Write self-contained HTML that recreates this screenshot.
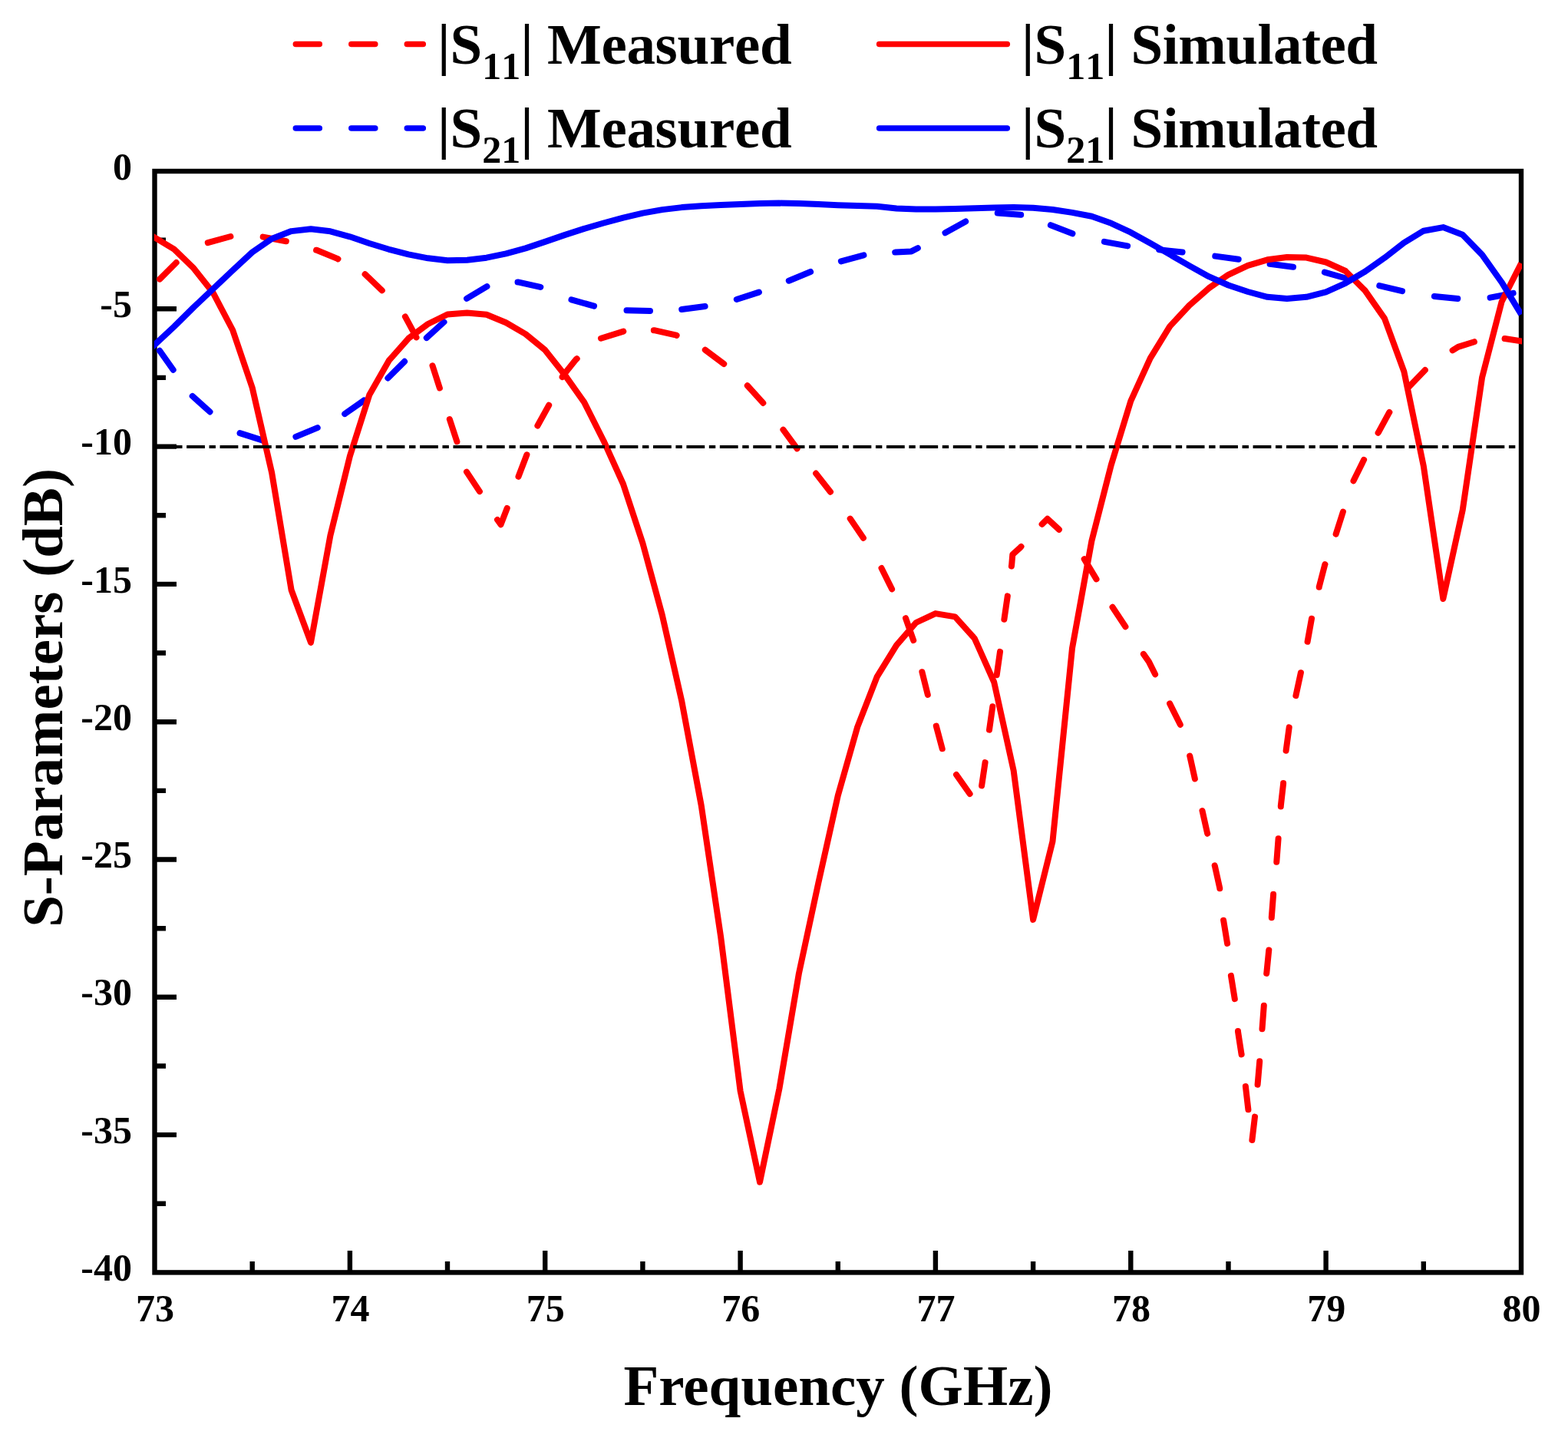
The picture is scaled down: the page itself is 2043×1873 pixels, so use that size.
<!DOCTYPE html><html><head><meta charset="utf-8"><title>S-Parameters</title>
<style>html,body{margin:0;padding:0;background:#fff;}svg{display:block;}text{font-family:"Liberation Serif","Times New Roman",serif;font-weight:bold;fill:#000;}</style></head><body>
<svg width="2043" height="1873" viewBox="0 0 2043 1873">
<rect x="0" y="0" width="2043" height="1873" fill="#fff"/>
<defs><clipPath id="pc"><rect x="200.8" y="223.0" width="1782.2" height="1434.4"/></clipPath></defs>
<rect x="201.5" y="223.0" width="1780.5" height="1434.4" fill="none" stroke="#000" stroke-width="6.4"/>
<path d="M201.5,312.6H216M201.5,402.3H230M201.5,491.9H216M201.5,581.6H230M201.5,671.2H216M201.5,760.9H230M201.5,850.5H216M201.5,940.2H230M201.5,1029.9H216M201.5,1119.5H230M201.5,1209.2H216M201.5,1298.8H230M201.5,1388.5H216M201.5,1478.1H230M201.5,1567.8H216M328.7,1657.4V1642.9M455.9,1657.4V1628.9M583.0,1657.4V1642.9M710.2,1657.4V1628.9M837.4,1657.4V1642.9M964.6,1657.4V1628.9M1091.8,1657.4V1642.9M1218.9,1657.4V1628.9M1346.1,1657.4V1642.9M1473.3,1657.4V1628.9M1600.5,1657.4V1642.9M1727.6,1657.4V1628.9M1854.8,1657.4V1642.9" stroke="#000" stroke-width="6.4" fill="none"/>
<g clip-path="url(#pc)" fill="none" stroke-width="8" stroke-linejoin="round">
<path d="M208.1,363.6 L229.7,342.0 M270.8,316.1 L300.4,308.0 M342.7,308.6 L372.8,314.2 M412.1,325.7 L412.5,325.8 L440.1,337.1 L440.4,337.3 M475.6,357.2 L497.8,378.3 M527.9,412.4 L542.5,439.4 M563.5,476.3 L572.9,505.4 M585.8,546.1 L595.4,575.2 M608.0,614.6 L624.9,640.1 M648.0,677.0 L652.5,683.3 L660.7,662.0 M675.5,620.8 L686.4,592.3 M700.4,554.5 L715.2,527.8 M732.6,491.0 L733.2,489.7 L750.6,468.1 L751.7,467.2 M783.0,440.7 L812.3,431.6 M851.8,430.2 L852.3,430.2 L881.2,436.7 L881.6,436.9 M918.8,455.7 L943.2,474.0 M973.8,502.2 L994.3,524.9 M1020.4,559.7 L1038.6,584.3 M1063.1,616.6 L1082.0,640.7 M1107.7,675.6 L1124.9,700.8 M1148.5,740.0 L1162.1,767.3 M1180.0,805.2 L1190.2,834.1 M1201.4,875.2 L1208.8,904.9 M1219.8,945.6 L1227.7,975.2 M1246.0,1009.0 L1263.6,1034.0 M1279.1,1023.4 L1283.6,993.1 M1289.0,950.6 L1293.3,920.3 M1298.7,879.2 L1303.0,848.9 M1308.4,806.7 L1312.8,776.4 M1317.9,737.5 L1318.2,735.3 L1319.3,722.3 L1329.0,713.6 L1330.5,711.9 M1357.6,682.8 L1364.7,675.8 L1379.9,689.8 M1412.7,728.1 L1428.5,754.4 M1449.5,790.8 L1466.4,816.2 M1489.9,851.9 L1496.9,861.9 L1505.1,878.3 M1524.1,916.4 L1537.8,943.8 M1550.2,984.6 L1550.3,984.9 L1556.8,1014.1 L1556.9,1014.4 M1566.5,1056.0 L1566.6,1056.3 L1573.1,1085.5 L1573.2,1085.8 M1582.7,1127.4 L1582.8,1127.7 L1589.3,1157.0 L1589.3,1157.3 M1594.1,1198.7 L1594.2,1199.2 L1599.0,1228.4 L1599.1,1228.9 M1603.9,1270.9 L1608.8,1301.1 M1613.0,1343.1 L1613.0,1343.6 L1617.5,1372.9 L1617.6,1373.4 M1622.9,1415.0 L1626.4,1445.3 M1631.4,1485.0 L1635.0,1454.6 M1638.6,1412.7 L1641.2,1382.6 L1641.2,1382.2 M1644.5,1340.2 L1646.8,1309.7 M1650.2,1267.9 L1650.3,1267.3 L1653.2,1238.1 L1653.3,1237.5 M1656.8,1195.3 L1656.8,1194.9 L1659.1,1165.1 L1659.1,1164.7 M1663.3,1122.7 L1665.6,1092.2 M1668.8,1050.4 L1668.8,1049.8 L1672.1,1020.6 L1672.1,1020.0 M1675.6,977.7 L1679.7,947.4 M1688.4,906.1 L1694.9,876.2 M1703.6,835.8 L1709.0,805.7 M1718.7,764.7 L1718.7,764.5 L1726.3,735.3 L1726.4,735.1 M1740.6,695.7 L1749.9,666.6 M1763.5,626.3 L1777.1,598.8 M1795.6,563.8 L1795.9,563.3 L1810.0,537.4 L1810.3,537.0 M1835.6,504.0 L1856.8,482.0 M1892.6,456.4 L1899.8,451.9 L1920.9,445.2 M1960.6,441.0 L1990.8,445.8" stroke="#f00" stroke-linecap="round"/>
<path d="M208.0,456.7 L225.7,481.7 M250.7,515.9 L273.5,536.4 M312.5,564.1 L341.6,573.4 M385.4,568.9 L413.7,557.1 M449.2,539.1 L449.3,539.0 L474.2,521.6 L474.3,521.5 M505.4,492.5 L527.1,470.8 M555.8,440.0 L578.5,419.4 M608.1,388.9 L634.4,373.1 M674.5,367.4 L674.8,367.4 L704.0,373.9 L704.3,374.0 M744.5,390.3 L774.0,398.7 M816.5,404.2 L847.0,404.9 M888.2,403.0 L918.6,399.0 M959.8,390.0 L988.9,380.6 M1027.8,365.7 L1056.1,354.0 M1095.9,340.3 L1125.4,332.3 M1166.2,328.6 L1167.0,328.5 L1187.5,327.4 L1195.1,323.5 L1195.8,323.1 M1231.5,303.2 L1258.2,288.4 M1299.7,277.6 L1299.8,277.6 L1330.1,279.8 L1330.2,279.8 M1368.9,293.2 L1397.4,304.3 M1438.9,314.9 L1469.1,320.4 M1510.2,325.3 L1540.6,328.4 M1583.3,333.6 L1613.7,337.7 M1654.6,343.8 L1685.0,347.8 M1725.9,354.6 L1755.4,363.0 M1797.3,372.1 L1827.0,379.1 M1868.9,386.0 L1899.3,388.9 M1941.6,387.7 L1971.6,381.8" stroke="#00f" stroke-linecap="round"/>
<polyline points="193.5,304.4 201.5,309.3 226.9,324.7 252.4,349.4 277.8,381.6 303.2,430.0 328.7,505.0 354.1,615.5 379.6,768.5 405.0,836.9 430.4,697.5 455.9,594.0 481.3,514.3 506.7,469.7 532.2,440.8 557.6,422.0 583.0,409.5 608.5,407.5 633.9,409.7 659.3,420.3 684.8,435.1 710.2,455.9 735.6,487.9 761.1,523.9 786.5,574.2 812.0,630.5 837.4,707.5 862.8,801.1 888.3,913.4 913.7,1049.0 939.1,1220.0 964.6,1421.0 990.0,1539.6 1015.4,1418.0 1040.9,1268.0 1066.3,1150.0 1091.8,1036.1 1117.2,946.9 1142.6,881.7 1168.1,840.4 1193.5,811.0 1218.9,799.1 1244.4,803.4 1269.8,831.6 1295.2,888.5 1320.7,1004.0 1346.1,1197.9 1371.5,1095.7 1397.0,844.4 1422.4,704.5 1447.8,605.5 1473.3,522.3 1498.7,466.7 1524.2,425.1 1549.6,397.7 1575.0,375.4 1600.5,357.8 1625.9,345.8 1651.3,338.3 1676.8,335.0 1702.2,335.6 1727.6,341.5 1753.1,353.0 1778.5,378.4 1804.0,414.9 1829.4,484.2 1854.8,607.0 1880.3,780.0 1905.7,664.4 1931.1,491.4 1956.6,393.0 1982.0,343.0" stroke="#f00"/>
<polyline points="193.5,456.7 201.5,449.2 226.9,425.4 252.4,400.2 277.8,376.2 303.2,352.1 328.7,328.5 354.1,311.0 379.6,301.1 405.0,298.2 430.4,301.3 455.9,308.3 481.3,317.0 506.7,324.8 532.2,331.3 557.6,336.3 583.0,339.2 608.5,338.8 633.9,335.7 659.3,330.4 684.8,323.4 710.2,314.9 735.6,306.1 761.1,297.9 786.5,290.5 812.0,283.6 837.4,277.6 862.8,273.1 888.3,270.1 913.7,268.2 939.1,267.0 964.6,266.0 990.0,265.1 1015.4,264.6 1040.9,265.0 1066.3,266.1 1091.8,267.2 1117.2,267.9 1142.6,268.8 1168.1,271.4 1193.5,272.4 1218.9,272.6 1244.4,272.1 1269.8,271.2 1295.2,270.4 1320.7,270.0 1346.1,270.7 1371.5,273.0 1397.0,276.9 1422.4,281.7 1447.8,290.8 1473.3,302.7 1498.7,316.8 1524.2,331.4 1549.6,346.1 1575.0,360.2 1600.5,371.5 1625.9,380.0 1651.3,386.8 1676.8,389.1 1702.2,386.8 1727.6,380.3 1753.1,368.8 1778.5,353.8 1804.0,335.8 1829.4,316.1 1854.8,300.7 1880.3,296.1 1905.7,305.7 1931.1,331.9 1956.6,367.7 1982.0,409.5" stroke="#00f"/>
</g>
<line x1="199.7" y1="582.0" x2="1979" y2="582.0" stroke="#000" stroke-width="4.2" stroke-dasharray="23.8 5.62 8.4 5.6"/>
<text x="172" y="233.6" font-size="50" text-anchor="end">0</text>
<text x="172" y="412.9" font-size="50" text-anchor="end">-5</text>
<text x="172" y="592.2" font-size="50" text-anchor="end">-10</text>
<text x="172" y="771.5" font-size="50" text-anchor="end">-15</text>
<text x="172" y="950.8" font-size="50" text-anchor="end">-20</text>
<text x="172" y="1130.1" font-size="50" text-anchor="end">-25</text>
<text x="172" y="1309.4" font-size="50" text-anchor="end">-30</text>
<text x="172" y="1488.7" font-size="50" text-anchor="end">-35</text>
<text x="172" y="1668.0" font-size="50" text-anchor="end">-40</text>
<text x="202.1" y="1721.4" font-size="50" text-anchor="middle">73</text>
<text x="456.5" y="1721.4" font-size="50" text-anchor="middle">74</text>
<text x="710.8" y="1721.4" font-size="50" text-anchor="middle">75</text>
<text x="965.2" y="1721.4" font-size="50" text-anchor="middle">76</text>
<text x="1219.5" y="1721.4" font-size="50" text-anchor="middle">77</text>
<text x="1473.9" y="1721.4" font-size="50" text-anchor="middle">78</text>
<text x="1728.2" y="1721.4" font-size="50" text-anchor="middle">79</text>
<text x="1982.6" y="1721.4" font-size="50" text-anchor="middle">80</text>
<text x="1092" y="1829.8" font-size="75" text-anchor="middle">Frequency (GHz)</text>
<text transform="translate(80.5,909) rotate(-90)" x="0" y="0" font-size="75" text-anchor="middle">S-Parameters (dB)</text>
<g fill="none" stroke-width="7.5" stroke-linecap="round">
<line x1="385.3" y1="57.4" x2="551.3" y2="57.4" stroke="#f00" stroke-dasharray="31 41.5"/>
<line x1="385.3" y1="166.9" x2="551.3" y2="166.9" stroke="#00f" stroke-dasharray="31 41.5"/>
<line x1="1145.6" y1="57.4" x2="1312.3" y2="57.4" stroke="#f00"/>
<line x1="1145.6" y1="166.9" x2="1312.3" y2="166.9" stroke="#00f"/>
</g>
<text x="570" y="83" font-size="75" style="font-kerning:none">|S<tspan font-size="50" dy="20">11</tspan><tspan dy="-20" textLength="353.4">| Measured</tspan></text>
<text x="570" y="192" font-size="75" style="font-kerning:none">|S<tspan font-size="50" dy="20">21</tspan><tspan dy="-20" textLength="353.4">| Measured</tspan></text>
<text x="1331" y="83" font-size="75" style="font-kerning:none">|S<tspan font-size="50" dy="20">11</tspan><tspan dy="-20" textLength="355.8">| Simulated</tspan></text>
<text x="1331" y="192" font-size="75" style="font-kerning:none">|S<tspan font-size="50" dy="20">21</tspan><tspan dy="-20" textLength="355.8">| Simulated</tspan></text>
</svg></body></html>
